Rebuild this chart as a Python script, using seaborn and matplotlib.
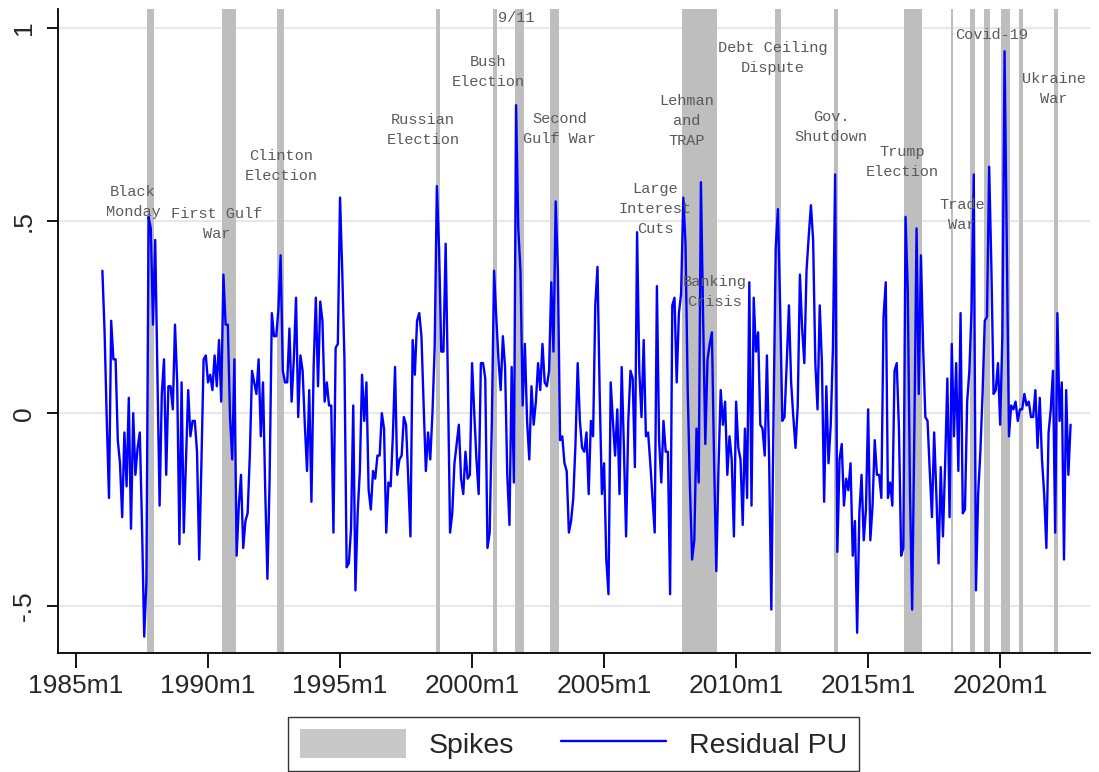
import matplotlib
matplotlib.use("Agg")
import matplotlib.pyplot as plt
import seaborn as sns
import pandas as pd
from matplotlib.patches import Patch
from matplotlib.lines import Line2D

# monthly residual policy uncertainty, 1986m1 .. 2022m9 (one row per year)
first_year = 1986
residual_pu = [
    .37, .21, -.02, -.22, .24, .14, .14, -.07, -.13, -.27, -.05, -.19,   # 1986
    .04, -.30, .00, -.16, -.09, -.05, -.29, -.58, -.44, .51, .48, .23,   # 1987
    .45, .11, -.24, .05, .14, -.16, .07, .07, .01, .23, .08, -.34,       # 1988
    .08, -.31, -.12, .06, -.06, -.02, -.02, -.10, -.38, -.13, .14, .15,  # 1989
    .08, .10, .06, .15, .07, .19, .03, .36, .23, .23, -.01, -.12,        # 1990
    .14, -.37, -.24, -.16, -.35, -.28, -.26, -.11, .11, .08, .05, .14,   # 1991
    -.06, .08, -.20, -.43, -.17, .26, .20, .20, .27, .41, .11, .08,      # 1992
    .08, .22, .03, .14, .30, -.01, .15, .11, -.03, -.15, .06, -.23,      # 1993
    .12, .30, .07, .29, .24, .03, .08, .02, .02, -.31, .17, .18,         # 1994
    .56, .37, .14, -.40, -.39, -.30, .02, -.46, -.26, -.15, .10, -.02,   # 1995
    .08, -.20, -.25, -.15, -.17, -.11, -.11, .00, -.04, -.31, -.18, -.19,  # 1996
    -.06, .12, -.16, -.12, -.11, -.01, -.03, -.17, -.32, .19, .10, .24,  # 1997
    .26, .20, .02, -.15, -.05, -.12, .00, .17, .59, .43, .16, .16,       # 1998
    .44, .09, -.31, -.26, -.13, -.08, -.03, -.17, -.21, -.10, -.17, -.16,  # 1999
    .13, .00, -.12, -.21, .13, .13, .09, -.35, -.31, -.02, .37, .25,     # 2000
    .14, .06, .20, .12, -.16, -.29, .12, -.18, .80, .48, .37, .02,       # 2001
    .18, -.02, -.12, .07, -.03, .03, .13, .06, .18, .08, .07, .11,       # 2002
    .34, .16, .55, .37, -.07, -.06, -.13, -.15, -.31, -.28, -.22, -.08,  # 2003
    .13, -.02, -.09, -.10, -.05, -.21, -.02, -.06, .28, .38, .05, -.21,  # 2004
    -.13, -.38, -.47, .08, -.02, -.11, .01, -.21, .12, -.09, -.32, -.02,  # 2005
    .11, .09, -.14, .47, .11, -.01, .19, -.06, -.05, -.13, -.22, -.31,   # 2006
    .33, -.07, -.18, -.02, -.10, -.10, -.47, .28, .30, .08, .26, .31,    # 2007
    .56, .44, .06, -.19, -.38, -.33, -.04, -.18, .60, .25, -.08, .14,    # 2008
    .18, .21, -.13, -.41, -.14, .06, -.03, .03, -.16, -.06, -.12, -.32,  # 2009
    .03, -.09, -.12, -.29, -.04, -.22, .34, -.24, .30, .16, .21, -.03,   # 2010
    -.04, -.11, .15, -.12, -.51, -.01, .43, .53, .28, -.02, -.01, .13,   # 2011
    .28, .08, -.01, -.09, .02, .36, .22, .13, .37, .46, .54, .45,        # 2012
    .13, .01, .28, .13, -.23, .07, -.13, -.03, .17, .62, -.36, -.12,     # 2013
    -.08, -.24, -.17, -.20, -.13, -.37, -.28, -.57, -.26, -.16, -.33, -.25,  # 2014
    .01, -.33, -.24, -.07, -.16, -.16, -.22, .25, .34, -.22, -.18, -.24,  # 2015
    .11, .13, -.04, -.37, -.35, .51, .32, -.20, -.51, -.05, .48, .05,    # 2016
    .41, .17, -.01, -.02, -.15, -.27, -.05, -.21, -.39, -.14, -.32, -.13,  # 2017
    .09, -.27, .18, -.06, .13, -.15, .26, -.26, -.25, .03, .11, .27,     # 2018
    .62, -.46, -.21, -.10, .05, .24, .25, .64, .38, .05, .06, .13,       # 2019
    -.03, .20, .94, .45, -.06, .02, .01, .03, -.02, .01, .01, .05,       # 2020
    .02, .03, -.01, -.01, .06, -.09, .04, -.12, -.21, -.35, -.05, .01,   # 2021
    .11, -.31, .26, -.02, .08, -.38, .06, -.16, -.03,                    # 2022
]

# shaded spike episodes (first and last month)
spike_start = ["1987m10", "1990m8", "1992m9", "1998m9", "2000m11", "2001m9",
               "2003m1", "2008m1", "2011m7", "2013m10", "2016m6", "2018m3",
               "2018m12", "2019m6", "2020m2", "2020m10", "2022m2"]
spike_end = ["1987m12", "1991m1", "1992m11", "1998m10", "2000m12", "2001m12",
             "2003m4", "2009m4", "2011m9", "2013m11", "2017m1", "2018m3",
             "2019m1", "2019m8", "2020m5", "2020m11", "2022m3"]

event_labels = ["Black\nMonday", "First Gulf\nWar", "Clinton\nElection",
                "Russian\nElection", "Bush\nElection", "9/11", "Second\nGulf War",
                "Lehman\nand\nTRAP", "Large\nInterest\nCuts", "Banking\nCrisis",
                "Debt Ceiling\nDispute", "Gov.\nShutdown", "Trump\nElection",
                "Trade\nWar", "Covid-19", "Ukraine\nWar"]
event_x = [1987.16, 1990.34, 1992.76, 1998.14, 2000.60, 2001.66, 2003.33,
           2008.11, 2006.93, 2009.17, 2011.40, 2013.60, 2016.29, 2018.56,
           2019.66, 2022.04]
event_y = [0.548, 0.491, 0.642, 0.735, 0.886, 1.026, 0.738, 0.758, 0.530,
           0.314, 0.922, 0.743, 0.652, 0.514, 0.982, 0.842]

tick_years = [1985, 1990, 1995, 2000, 2005, 2010, 2015, 2020]


def ym(s):
    y, m = s.split("m")
    return int(y) + (int(m) - 1) / 12


df = pd.DataFrame({
    "date": [first_year + i / 12 for i in range(len(residual_pu))],
    "pu": residual_pu,
})

sns.set_style("white", {"xtick.bottom": True, "ytick.left": True})
plt.rcParams["font.family"] = ["Liberation Sans", "DejaVu Sans"]

fig = plt.figure(figsize=(10.99, 7.72), dpi=100)
ax = fig.add_axes([0.0528, 0.154, 0.9392, 0.834])

for s, e in zip(spike_start, spike_end):
    ax.axvspan(ym(s) - 1 / 24, ym(e) + 1 / 24, color="#bebebe", lw=0, zorder=1)

sns.lineplot(data=df, x="date", y="pu", color="#0000ff", lw=1.7, ax=ax, zorder=3)

for lab, x, y in zip(event_labels, event_x, event_y):
    ax.text(x, y, lab, ha="center", va="center", color="#5a5a5a",
            fontsize=11, family="Liberation Mono", linespacing=1.55, zorder=4)

ax.set_xlim(1984.32, 2023.41)
ax.set_ylim(-0.623, 1.049)
ax.set_xticks(tick_years)
ax.set_xticklabels([f"{y}m1" for y in tick_years])
ax.set_yticks([-0.5, 0, 0.5, 1])
ax.set_yticklabels(["-.5", "0", ".5", "1"], rotation=90, va="center")
ax.yaxis.grid(True, color="#e8e8e8", lw=1.5, zorder=0)
ax.set_axisbelow(True)
ax.set_xlabel("")
ax.set_ylabel("")
for side in ["top", "right"]:
    ax.spines[side].set_visible(False)
for side in ["left", "bottom"]:
    ax.spines[side].set_color("black")
    ax.spines[side].set_linewidth(1.3)
ax.tick_params(axis="x", direction="out", length=11, width=1.3, labelsize=19,
               pad=4, color="black")
ax.tick_params(axis="y", direction="out", length=8, width=1.3, labelsize=19,
               pad=8, color="black")

handles = [Patch(facecolor="#c8c8c8", edgecolor="none"),
           Line2D([], [], color="#0000ff", lw=1.7)]
leg = fig.legend(handles, ["Spikes", "Residual PU"], loc="lower center",
                 bbox_to_anchor=(0.522, -0.017), ncol=2, fontsize=20.5,
                 frameon=True, fancybox=False, handlelength=3.7,
                 handleheight=1.2, handletextpad=0.8, columnspacing=1.65,
                 borderpad=0.42)
leg.get_frame().set_edgecolor("black")
leg.get_frame().set_linewidth(1.0)

fig.savefig("out.png", dpi=100)
